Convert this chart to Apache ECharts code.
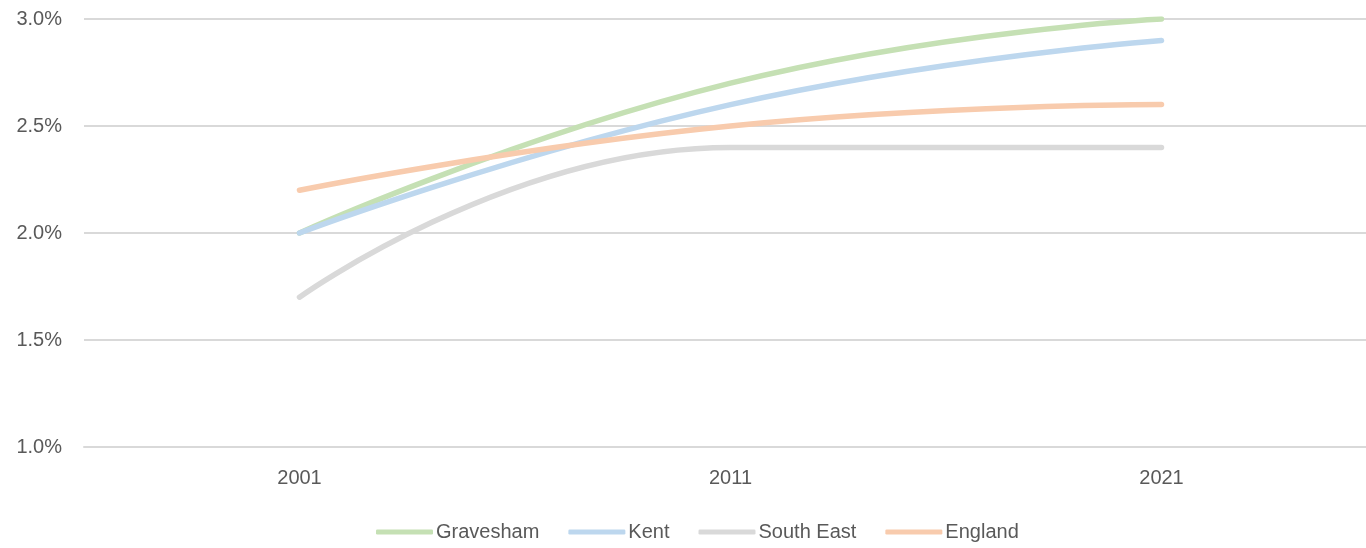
<!DOCTYPE html>
<html>
<head>
<meta charset="utf-8">
<script src="https://cdn.jsdelivr.net/npm/echarts@6/dist/echarts.min.js"></script>
<style>
  html, body { margin: 0; padding: 0; background: #fff; }
  #main { width: 1366px; height: 548px; }
</style>
</head>
<body>
<div id="main"></div>
<script>
var years = ['2001', '2011', '2021'];
var gravesham = [2.0, 2.7, 3.0];
var kent = [2.0, 2.6, 2.9];
var southEast = [1.7, 2.4, 2.4];
var england = [2.2, 2.5, 2.6];

var myChart = echarts.init(document.getElementById('main'));

function line(name, data, color) {
    return {
        name: name,
        type: 'line',
        data: data,
        smooth: 0.5,
        showSymbol: false,
        symbol: 'none',
        lineStyle: { color: color, width: 5.5, cap: 'round' },
        itemStyle: { color: color }
    };
}

var option = {
    animation: false,
    textStyle: { fontFamily: 'Liberation Sans', color: '#595959' },
    // plot area runs past the right edge of the picture
    grid: { left: 84, top: 19, width: 1293, height: 428, containLabel: false, outerBoundsMode: 'none' },
    xAxis: {
        type: 'category',
        data: years,
        boundaryGap: true,
        axisLine: { show: true, lineStyle: { color: '#d9d9d9', width: 2 } },
        axisTick: { show: false },
        axisLabel: { color: '#595959', fontSize: 20, margin: 21 }
    },
    yAxis: {
        type: 'value',
        min: 1.0,
        max: 3.0,
        interval: 0.5,
        axisLine: { show: false },
        axisTick: { show: false },
        splitLine: { lineStyle: { color: '#d9d9d9', width: 2 } },
        axisLabel: {
            color: '#595959', fontSize: 20, margin: 22,
            formatter: function (v) { return v.toFixed(1) + '%'; }
        }
    },
    legend: {
        top: 517,
        left: 371,
        icon: 'roundRect',
        itemWidth: 57,
        itemHeight: 5,
        itemGap: 29,
        textStyle: { color: '#595959', fontSize: 20, padding: [0, 0, 0, -2] },
        data: ['Gravesham', 'Kent', 'South East', 'England']
    },
    series: [
        line('Gravesham', gravesham, '#c5e0b4'),
        line('Kent', kent, '#bdd7ee'),
        line('South East', southEast, '#d9d9d9'),
        line('England', england, '#f8cbad')
    ]
};
myChart.setOption(option);
</script>
</body>
</html>
